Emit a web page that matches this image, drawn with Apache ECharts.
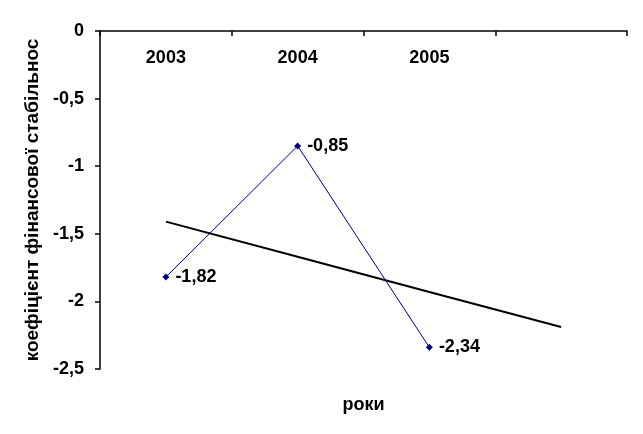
<!DOCTYPE html>
<html>
<head>
<meta charset="utf-8">
<script src="https://cdn.jsdelivr.net/npm/echarts@6/dist/echarts.min.js"></script>
<style>html,body{margin:0;padding:0;background:#fff;}#c{width:643px;height:434px;}</style>
</head>
<body>
<div id="c"></div>
<script>
var categories = ['2003', '2004', '2005', ''];
var values = [-1.82, -0.85, -2.34, null];
var trend = [-1.41, -1.67, -1.93, -2.19];
var yTicks = [0, -0.5, -1, -1.5, -2, -2.5];
var xName = 'роки';
var yName = 'коефіцієнт фінансової стабільнос';

function fmt(v) { return String(v).replace('.', ','); }
var F = 'Liberation Sans, Arial, sans-serif';
var chart = echarts.init(document.getElementById('c'), null, {renderer: 'canvas'});
chart.setOption({
  animation: false,
  backgroundColor: '#fff',
  grid: {left: 100, right: 16, top: 31, bottom: 65, containLabel: false},
  xAxis: {
    type: 'category', position: 'top', data: categories, boundaryGap: true,
    name: xName, nameLocation: 'middle', nameGap: -383,
    nameTextStyle: {fontFamily: F, fontWeight: 'bold', fontSize: 18, color: '#000'},
    axisLine: {show: true, onZero: false, lineStyle: {color: '#000', width: 1.5}},
    axisTick: {show: true, inside: true, length: 5, lineStyle: {color: '#000', width: 1.5}},
    axisLabel: {inside: true, margin: 18, fontFamily: F, fontWeight: 'bold', fontSize: 18, color: '#000'},
    splitLine: {show: false}
  },
  yAxis: {
    type: 'value', min: -2.5, max: 0, interval: 0.5,
    name: yName, nameLocation: 'middle', nameGap: 58, nameRotate: 90,
    nameTextStyle: {fontFamily: F, fontWeight: 'bold', fontSize: 19, color: '#000'},
    axisLine: {show: true, lineStyle: {color: '#000', width: 1.5}},
    axisTick: {show: true, length: 5, lineStyle: {color: '#000', width: 1.5}},
    axisLabel: {margin: 16, fontFamily: F, fontWeight: 'bold', fontSize: 18, color: '#000', formatter: function (v) { return fmt(v); }},
    splitLine: {show: false}
  },
  series: [
    {
      type: 'line', data: values, connectNulls: false,
      symbol: 'diamond', symbolSize: 7,
      itemStyle: {color: '#000080'},
      lineStyle: {color: '#000080', width: 1},
      label: {show: true, position: 'right', distance: 6, fontFamily: F, fontWeight: 'bold', fontSize: 18, color: '#000',
        formatter: function (p) { return fmt(p.value); }},
      z: 3
    },
    {
      type: 'line', data: trend, symbol: 'none',
      lineStyle: {color: '#000', width: 2},
      z: 2
    }
  ]
});
</script>
</body>
</html>
